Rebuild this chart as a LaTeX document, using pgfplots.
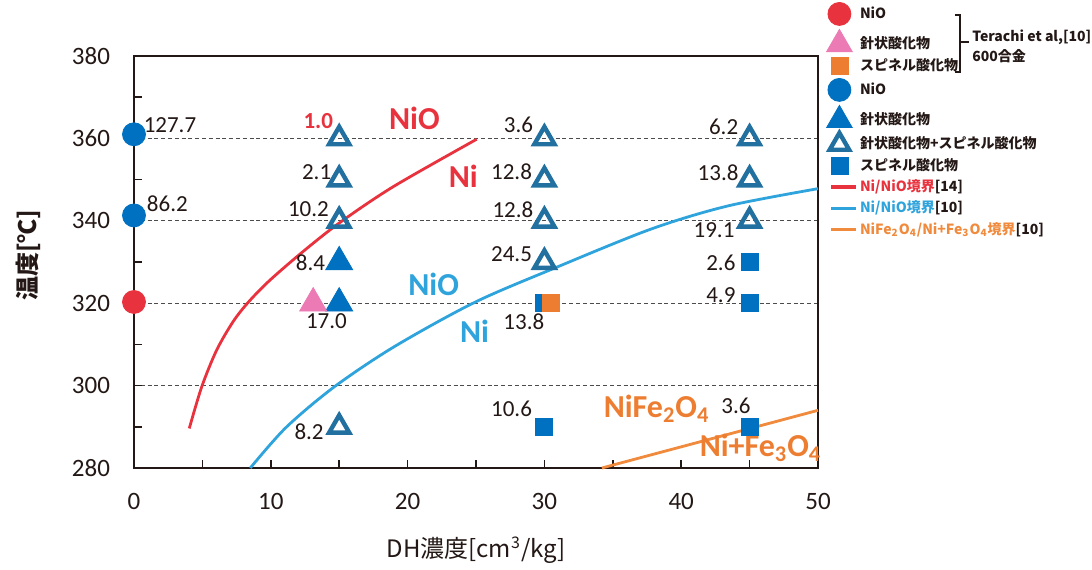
\documentclass[border=0pt]{standalone}
\usepackage{pgfplots}
\pgfplotsset{compat=1.18}
\usepackage{fontspec}
\setmainfont{Carlito}
\newfontfamily\jp{Noto Sans CJK JP}
\definecolor{cred}{HTML}{E8333F}
\definecolor{cpink}{HTML}{EC7AB4}
\definecolor{corange}{HTML}{ED7D31}
\definecolor{cblue}{HTML}{0070C0}
\definecolor{ctri}{HTML}{21709F}
\definecolor{clblue}{HTML}{2FA3DC}
\definecolor{clorange}{HTML}{F08A3C}
\definecolor{ctext}{HTML}{231815}
\begin{document}
\begin{tikzpicture}
\begin{axis}[
  name=ax, scale only axis, width=342pt, height=206pt,
  xmin=0, xmax=50, ymin=280, ymax=380,
  xtick={0,10,...,50}, minor x tick num=1,
  ytick={280,300,...,380}, minor y tick num=1,
  tick align=inside, tick pos=left,
  major tick length=4pt, minor tick length=4pt,
  ymajorgrids, grid style={dash pattern=on 2pt off 1.4pt, color=black!70, line width=0.5pt},
  axis line style={line width=1pt, color=ctext},
  every tick/.style={line width=0.8pt, color=ctext},
  tick label style={font=\fontsize{12.5}{14}\selectfont, text=ctext},
  /pgf/number format/assume math mode=true,
  x tick label style={yshift=-9pt},
  y tick label style={xshift=-8.5pt},
  xlabel={{\jp DH濃度[cm\textsuperscript{3}/kg]}},
  xlabel style={at={(axis description cs:0.5,-0.199)}, anchor=center, font=\fontsize{12}{14}\selectfont, text=ctext},
  ylabel={{\jp\bfseries 温度[℃]}},
  ylabel style={at={(axis description cs:-0.155,0.517)}, anchor=center, font=\fontsize{12}{14}\selectfont, text=ctext},
  clip=false,
  legend image code/.code={\draw[mark repeat=2,mark phase=2,#1] plot coordinates {(-4pt,0pt)(0pt,0pt)(8.5pt,0pt)};},
  legend style={draw=none, fill=none, inner sep=0pt, at={(1.012,1.131)}, anchor=north west,
    font=\jp\bfseries\fontsize{7}{8}\selectfont, text=ctext, row sep=2pt,
    nodes={inner xsep=1pt, inner ysep=0.6pt}},
  legend cell align=left,
]
% boundary curves
\addplot[cred, line width=1.4pt, smooth, forget plot] coordinates {(4.04,289.6)(4.95,299.7)(6.04,308.6)(7.26,315.6)(8.4,320.4)(9.94,325.6)(12.38,332.6)(15.06,339.6)(18.96,348.3)(25.05,359.8)};
\addplot[clblue, line width=1.4pt, smooth, forget plot] coordinates {(8.5,280)(11.1,289.8)(14.6,299.6)(19,309.4)(24.9,320.2)(30.8,328.6)(37.8,338)(43.4,343.6)(50,347.8)};
\addplot[clorange, line width=1.4pt, forget plot] coordinates {(34.2,280)(50,294)};
% data markers
\addplot[only marks, mark=triangle, mark size=5.8pt, ctri, line width=2.2pt, forget plot] coordinates {(15,360)(15,350)(15,340)(15,290)(30,360)(30,350)(30,340)(30,330)(45,360)(45,350)(45,340)};
\addplot[only marks, mark=triangle*, mark size=7.8pt, cblue, forget plot] coordinates {(15,330)(15,320)};
\addplot[only marks, mark=triangle*, mark size=7.8pt, cpink, forget plot] coordinates {(13.1,320)};
\addplot[only marks, mark=square*, mark size=4.25pt, cblue, forget plot] coordinates {(30,320)(30,290)(45,330)(45,320)(45,290)};
\addplot[only marks, mark=square*, mark size=4.25pt, corange, forget plot] coordinates {(30.5,320)};
\addplot[only marks, mark=*, mark size=5.75pt, cblue, forget plot] coordinates {(0,361)(0,341.3)};
\addplot[only marks, mark=*, mark size=5.75pt, cred, forget plot] coordinates {(0,320.3)};
% legend
\addlegendimage{only marks, mark=*, mark size=5.75pt, cred}
\addlegendentry{NiO}
\addlegendimage{only marks, mark=triangle*, mark size=7.4pt, cpink}
\addlegendentry{針状酸化物}
\addlegendimage{only marks, mark=square*, mark size=4.25pt, corange}
\addlegendentry{スピネル酸化物}
\addlegendimage{only marks, mark=*, mark size=5.75pt, cblue}
\addlegendentry{NiO}
\addlegendimage{only marks, mark=triangle*, mark size=7.4pt, cblue}
\addlegendentry{針状酸化物}
\addlegendimage{only marks, mark=triangle, mark size=5.6pt, ctri, line width=2.2pt}
\addlegendentry{針状酸化物+スピネル酸化物}
\addlegendimage{only marks, mark=square*, mark size=4.25pt, cblue}
\addlegendentry{スピネル酸化物}
\addlegendimage{cred, line width=1.6pt}
\addlegendentry{\textcolor{cred}{Ni/NiO境界}[14]}
\addlegendimage{clblue, line width=1.6pt}
\addlegendentry{\textcolor{clblue}{Ni/NiO境界}[10]}
\addlegendimage{clorange, line width=1.6pt}
\addlegendentry{\textcolor{clorange}{NiFe\textsubscript{2}O\textsubscript{4}/Ni+Fe\textsubscript{3}O\textsubscript{4}境界}[10]}
% value labels
\begin{scope}[every node/.style={font=\fontsize{11.5}{13}\selectfont, text=ctext}]
\node at (axis cs:2.63,363.3) {127.7};
\node at (axis cs:2.44,344.1) {86.2};
\node[text=cred, font=\bfseries\fontsize{11.5}{13}\selectfont] at (axis cs:13.47,364.1) {1.0};
\node at (axis cs:13.35,351.9) {2.1};
\node at (axis cs:12.75,342.8) {10.2};
\node at (axis cs:12.9,329.9) {8.4};
\node at (axis cs:14.07,315.6) {17.0};
\node at (axis cs:12.8,288.8) {8.2};
\node at (axis cs:28.1,363.3) {3.6};
\node at (axis cs:27.6,351.9) {12.8};
\node at (axis cs:27.7,342.8) {12.8};
\node at (axis cs:27.6,331.9) {24.5};
\node at (axis cs:28.5,315.6) {13.8};
\node at (axis cs:27.6,294.3) {10.6};
\node at (axis cs:43.1,362.8) {6.2};
\node at (axis cs:42.7,351.7) {13.8};
\node at (axis cs:42.4,337.8) {19.1};
\node at (axis cs:42.9,329.9) {2.6};
\node at (axis cs:42.9,321.9) {4.9};
\node at (axis cs:44,295.1) {3.6};
\end{scope}
% region labels
\begin{scope}[every node/.style={font=\bfseries\fontsize{16}{18}\selectfont}]
\node[text=cred] at (axis cs:20.5,364.9) {NiO};
\node[text=cred] at (axis cs:24.07,350.7) {Ni};
\node[text=clblue] at (axis cs:21.9,324.5) {NiO};
\node[text=clblue] at (axis cs:24.9,313.2) {Ni};
\node[text=corange] at (axis cs:38.2,294.3) {NiFe\textsubscript{2}O\textsubscript{4}};
\node[text=corange] at (axis cs:45.8,284.8) {Ni+Fe\textsubscript{3}O\textsubscript{4}};
\end{scope}
\end{axis}
% bracket for Terachi et al.
\draw[line width=0.8pt, ctext] ([xshift=68.5pt,yshift=20.5pt]ax.north east) -- ([xshift=71pt,yshift=20.5pt]ax.north east) -- ([xshift=71pt,yshift=-8pt]ax.north east) -- ([xshift=68.5pt,yshift=-8pt]ax.north east);
\draw[line width=0.8pt, ctext] ([xshift=71pt,yshift=7pt]ax.north east) -- ([xshift=75.5pt,yshift=7pt]ax.north east);
\node[anchor=west, inner sep=0pt, font=\jp\bfseries\fontsize{7}{8}\selectfont, text=ctext] at ([xshift=77pt,yshift=9.5pt]ax.north east) {Terachi et al,[10]};
\node[anchor=west, inner sep=0pt, font=\jp\bfseries\fontsize{7}{8}\selectfont, text=ctext] at ([xshift=77pt,yshift=0pt]ax.north east) {600合金};
\pgfresetboundingbox
\path ([xshift=-67pt,yshift=-50.5pt]ax.south west) rectangle ([xshift=137pt,yshift=28pt]ax.north east);
\end{tikzpicture}
\end{document}
